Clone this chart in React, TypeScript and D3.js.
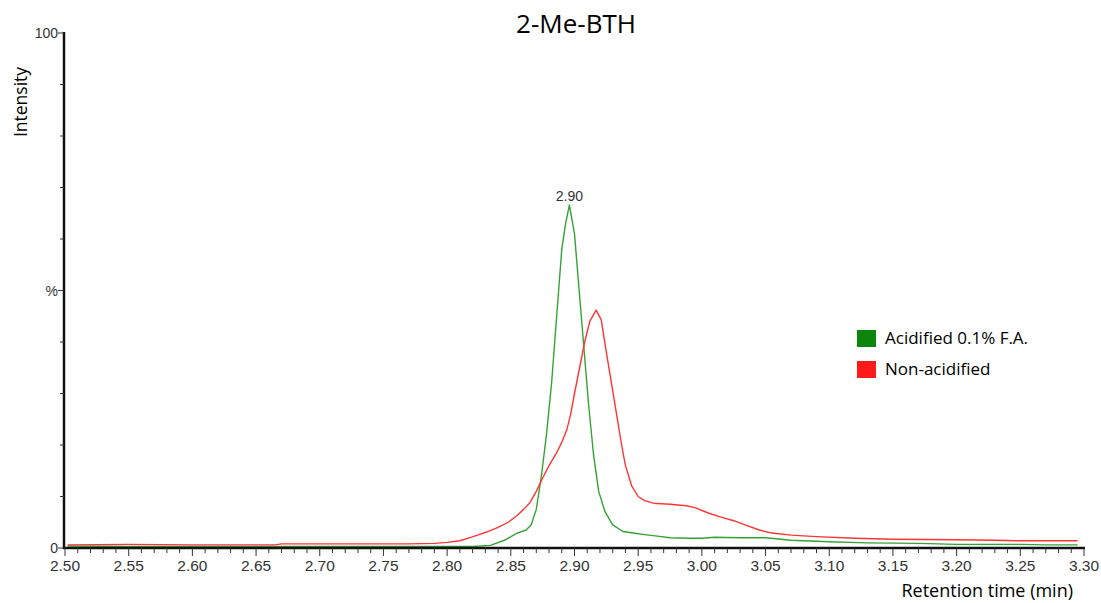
import React from 'react';
import * as d3 from 'd3';

const W = 1101;
const H = 603;
const MARGIN = { left: 64, right: 17, top: 33, bottom: 55 };

const title = '2-Me-BTH';
const seriesNames = ['Acidified 0.1% F.A.', 'Non-acidified'];
const seriesColors = ['#0b860b', '#ff1a1a'];
const lineColors = ['#35a235', '#ff3535'];

// Acidified trace (retention time, %)
const greenTime = [2.502, 2.55, 2.6, 2.65, 2.7, 2.75, 2.8, 2.82, 2.834, 2.845, 2.855, 2.862, 2.866, 2.87, 2.874, 2.878, 2.882, 2.886, 2.89, 2.893, 2.896, 2.9, 2.903, 2.907, 2.911, 2.915, 2.919, 2.924, 2.93, 2.938, 2.946, 2.955, 2.965, 2.975, 2.99, 3.0, 3.01, 3.03, 3.05, 3.07, 3.1, 3.13, 3.17, 3.2, 3.25, 3.27, 3.295];
const greenValue = [0.4, 0.3, 0.3, 0.3, 0.3, 0.3, 0.3, 0.3, 0.5, 1.5, 2.9, 3.5, 4.5, 7.5, 14, 22, 32, 45, 58, 63, 66.6, 61, 52, 40, 28, 18, 11, 7, 4.5, 3.2, 2.9, 2.6, 2.3, 2.0, 1.9, 1.9, 2.1, 2.0, 2.0, 1.5, 1.2, 1.0, 0.9, 0.7, 0.7, 0.6, 0.6];

// Non-acidified trace
const redTime = [2.502, 2.55, 2.6, 2.665, 2.67, 2.72, 2.77, 2.79, 2.8, 2.81, 2.818, 2.825, 2.831, 2.84, 2.848, 2.855, 2.86, 2.865, 2.87, 2.875, 2.88, 2.886, 2.89, 2.894, 2.897, 2.9, 2.904, 2.908, 2.912, 2.917, 2.921, 2.925, 2.929, 2.933, 2.937, 2.94, 2.945, 2.95, 2.955, 2.962, 2.975, 2.988, 2.995, 3.005, 3.015, 3.025, 3.035, 3.045, 3.055, 3.07, 3.09, 3.12, 3.15, 3.2, 3.23, 3.25, 3.295];
const redValue = [0.6, 0.7, 0.6, 0.6, 0.8, 0.8, 0.8, 0.9, 1.1, 1.4, 2.0, 2.6, 3.1, 4.0, 5.0, 6.3, 7.5, 8.8, 11, 13.6, 16, 18.5, 20.5, 23, 26, 30, 35, 40, 44, 46.2, 44.3, 38, 32, 26, 20, 16, 12, 10, 9.2, 8.7, 8.5, 8.2, 7.8, 6.8, 6.0, 5.3, 4.4, 3.5, 2.9, 2.5, 2.2, 1.9, 1.7, 1.6, 1.5, 1.4, 1.4];

const xMajor = [2.5, 2.55, 2.6, 2.65, 2.7, 2.75, 2.8, 2.85, 2.9, 2.95, 3.0, 3.05, 3.1, 3.15, 3.2, 3.25, 3.3];
const peakLabel = { time: 2.896, value: 66.6, text: '2.90' };

export default function App() {
  const x = d3.scaleLinear().domain([2.5, 3.3]).range([MARGIN.left + 1, W - MARGIN.right]);
  const y = d3.scaleLinear().domain([0, 100]).range([H - MARGIN.bottom, MARGIN.top]);

  const line = d3.line<[number, number]>().x(d => x(d[0])).y(d => y(d[1]));
  const series = [
    d3.zip(greenTime, greenValue) as [number, number][],
    d3.zip(redTime, redValue) as [number, number][],
  ];

  const xMinor = d3.range(0, 81).map(i => 2.5 + i * 0.01);
  const yMinor = d3.range(0, 11).map(i => i * 10);
  const axisY = y(0);
  const font = '"Liberation Sans", Arial, sans-serif';
  const labelFont = '"Open Sans", sans-serif';

  return (
    <div style={{ position: 'absolute', left: 0, top: 0 }}>
      <svg width={W} height={H} style={{ display: 'block', background: '#fff' }}>
        <text x={576} y={33} textAnchor="middle" fontFamily={labelFont} fontSize={26} fill="#000">{title}</text>

        {series.map((s, i) => (
          <path key={i} d={line(s) || ''} fill="none" stroke={lineColors[i]} strokeWidth={1.4} strokeLinejoin="round" />
        ))}

        <text x={x(peakLabel.time)} y={y(peakLabel.value) - 4} textAnchor="middle" fontFamily={font} fontSize={14} fill="#333">{peakLabel.text}</text>

        {/* y axis */}
        <line x1={MARGIN.left} x2={MARGIN.left} y1={y(100) - 1} y2={axisY + 1} stroke="#111" strokeWidth={2.5} />
        {yMinor.map(v => (
          <line key={v} x1={MARGIN.left - (v === 0 || v === 100 || v === 50 ? 6 : 4)} x2={MARGIN.left} y1={y(v)} y2={y(v)} stroke="#333" strokeWidth={1} />
        ))}
        <text x={MARGIN.left - 6} y={y(100) + 5} textAnchor="end" fontFamily={font} fontSize={14} fill="#333">100</text>
        <text x={MARGIN.left - 6} y={y(0) + 5} textAnchor="end" fontFamily={font} fontSize={14} fill="#333">0</text>
        <text x={MARGIN.left - 6} y={y(50) + 5} textAnchor="end" fontFamily={font} fontSize={14} fill="#333">%</text>
        <text transform={`translate(27,102) rotate(-90)`} textAnchor="middle" fontFamily={labelFont} fontSize={17.5} fill="#000">Intensity</text>

        {/* x axis */}
        <line x1={MARGIN.left - 1} x2={W - MARGIN.right + 1} y1={axisY} y2={axisY} stroke="#111" strokeWidth={2.5} />
        {xMinor.map((v, i) => (
          <line key={i} x1={x(v)} x2={x(v)} y1={axisY} y2={axisY + (i % 5 === 0 ? 8 : 5)} stroke="#333" strokeWidth={1} />
        ))}
        {xMajor.map(v => (
          <text key={v} x={x(v)} y={axisY + 23} textAnchor="middle" fontFamily={font} fontSize={15.5} fill="#333">{v.toFixed(2)}</text>
        ))}
        <text x={1073} y={597} textAnchor="end" fontFamily={labelFont} fontSize={18} fill="#000">Retention time (min)</text>

        {/* legend */}
        {seriesNames.map((n, i) => (
          <g key={n} transform={`translate(857,${330 + i * 31})`}>
            <rect width={19} height={17} fill={seriesColors[i]} />
            <text x={28} y={14} fontFamily={labelFont} fontSize={17} fill="#000">{n}</text>
          </g>
        ))}
      </svg>
    </div>
  );
}
